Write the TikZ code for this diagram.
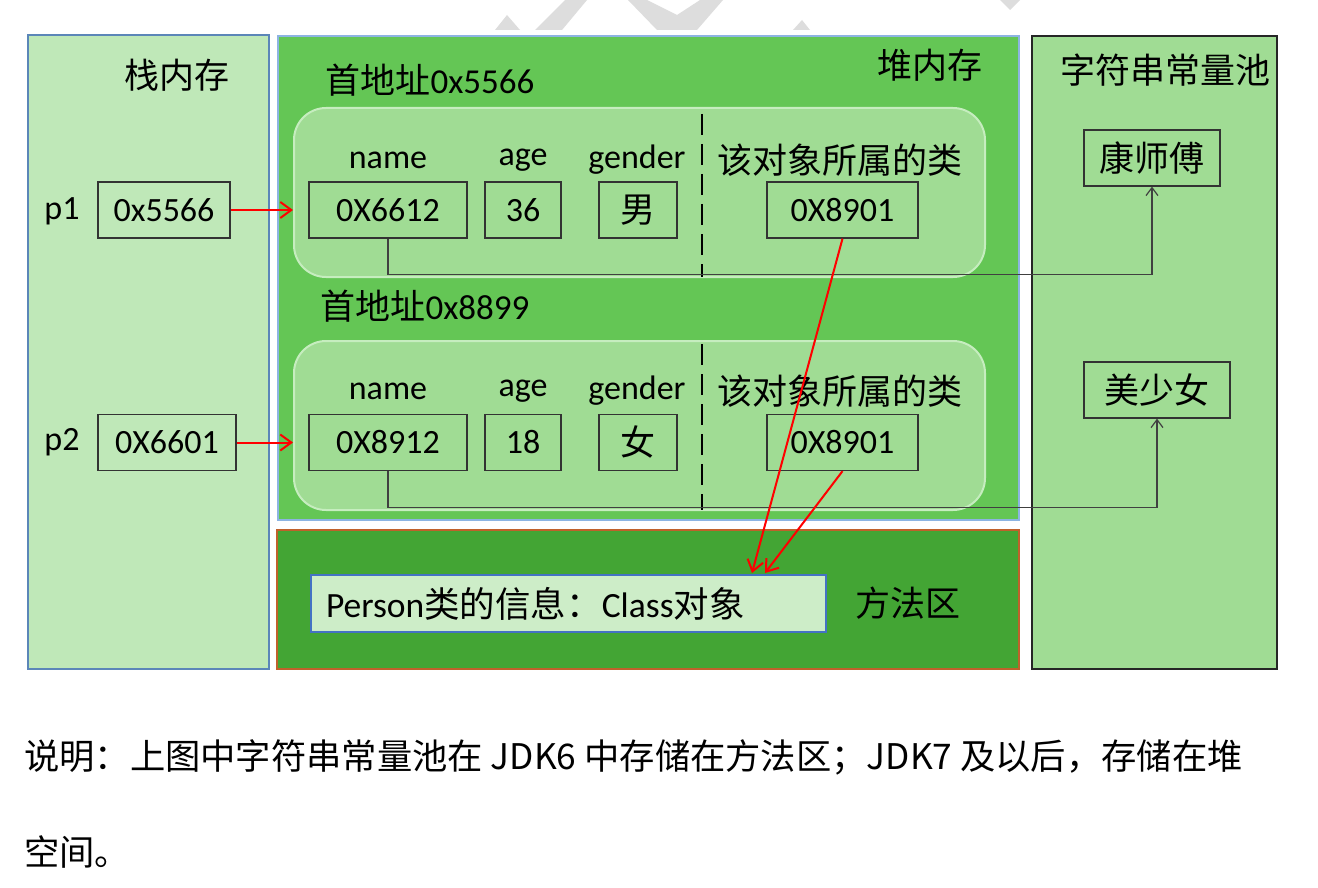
\documentclass[tikz,border=0pt]{standalone}
\usepackage{fontspec}
\setmainfont{Carlito}
\newfontfamily\cjk{Noto Sans CJK SC}
\usetikzlibrary{arrows.meta}
\newcommand{\zh}[1]{{\cjk #1}}
\definecolor{stackfill}{HTML}{BFE8B8}
\definecolor{stackedge}{HTML}{5B86B8}
\definecolor{heapfill}{HTML}{64C655}
\definecolor{heapedge}{HTML}{8DB4E2}
\definecolor{objfill}{HTML}{A0DC94}
\definecolor{objedge}{HTML}{C6EDBF}
\definecolor{methodfill}{HTML}{43A534}
\definecolor{methodedge}{HTML}{C0612B}
\definecolor{personfill}{HTML}{CDEDC8}
\definecolor{personedge}{HTML}{4472C4}
\definecolor{poolfill}{HTML}{A0DC94}
\definecolor{wmgray}{HTML}{DDDDDD}

\begin{document}
\begin{tikzpicture}[x=1pt,y=-1pt,
  latin/.style={font=\fontsize{34}{40}\selectfont},
  title/.style={font=\cjk\fontsize{35}{42}\selectfont},
  cell/.style={draw=black!80, line width=1.3pt, inner sep=0pt, minimum height=56pt, latin},
  objbox/.style={draw=objedge, fill=objfill, line width=2pt, rounded corners=32pt,
    minimum width=691pt, minimum height=169pt},
  ref/.style={-{Straight Barb[length=11pt,width=16pt]}, red, line width=2pt},
  link/.style={-{Straight Barb[length=8pt,width=12pt]}, black!75, line width=1.2pt}]
    \useasboundingbox (0,0) rectangle (1318,888);
    %watermark pieces
    \fill[wmgray] (495,30) -- (507,15) -- (520,30) -- cycle;
    \fill[wmgray] (535,30) -- (565,0) -- (587,0) -- (562,30) -- cycle;
    \fill[wmgray] (628,0) -- (657,30) -- (697,30) -- (723,0) -- (700,0) -- (677,15) -- (647,0) -- cycle;
    \fill[wmgray] (793,30) -- (802,20) -- (810,30) -- cycle;
    \fill[wmgray] (1000,0) -- (1020,0) -- (1010,10) -- cycle;
    %memory areas
    \draw[fill=stackfill, draw=stackedge, line width=2pt] (28,35) rectangle (269,669);
    \draw[fill=heapfill, draw=heapedge, line width=2pt] (278,36) rectangle (1019,520);
    \draw[fill=methodfill, draw=methodedge, line width=2.5pt] (277,530) rectangle (1019,669);
    \draw[fill=poolfill, draw=black!85, line width=1.5pt] (1032,36) rectangle (1277,669);
    \node[title] (stacktitle) at (177,75) {栈内存};
    \node[title] (heaptitle) at (930,65) {堆内存};
    \node[title] (pooltitle) at (1165,70) {字符串常量池};
    \node[title] (methodtitle) at (908,603) {方法区};
    %objects
    \node[title, anchor=west] (addr1) at (322,80) {首地址{\rmfamily 0x5566}};
    \node[title, anchor=west] (addr2) at (317,306) {首地址{\rmfamily 0x8899}};
    \node[objbox] (obj1) at (639.5,192.5) {};
    \node[objbox] (obj2) at (639.5,425.5) {};
    \draw[dashed, dash pattern=on 21pt off 9pt, line width=2pt] (702,114) -- (702,277);
    \draw[dashed, dash pattern=on 21pt off 9pt, line width=2pt] (702,344) -- (702,510);
    \node[latin] (name1) at (388,160) {name};
    \node[latin] (age1) at (523,160) {age};
    \node[latin] (gender1) at (637,160) {gender};
    \node[title] (class1) at (840,160) {该对象所属的类};
    \node[latin] (name2) at (388,391) {name};
    \node[latin] (age2) at (523,391) {age};
    \node[latin] (gender2) at (637,391) {gender};
    \node[title] (class2) at (840,391) {该对象所属的类};
    \node[cell, minimum width=158pt] (n1) at (388,210) {0X6612};
    \node[cell, minimum width=76pt] (a1) at (523,210) {36};
    \node[cell, minimum width=78pt, title] (g1) at (638,210) {男};
    \node[cell, minimum width=151pt] (c1) at (842.5,210) {0X8901};
    \node[cell, minimum width=158pt] (n2) at (388,442.5) {0X8912};
    \node[cell, minimum width=76pt] (a2) at (523,442.5) {18};
    \node[cell, minimum width=78pt, title] (g2) at (638,442.5) {女};
    \node[cell, minimum width=151pt] (c2) at (842.5,442.5) {0X8901};
    %stack
    \node[latin] (p1) at (62,211) {p1};
    \node[latin] (p2) at (62,442) {p2};
    \node[cell, minimum width=132pt] (ptr1) at (164,210) {0x5566};
    \node[cell, minimum width=138pt] (ptr2) at (167,442.5) {0X6601};
    %string pool
    \node[cell, minimum width=136pt, title] (kang) at (1152,158) {康师傅};
    \node[cell, minimum width=146pt, title] (mei) at (1157,390) {美少女};
    %method area
    \node[draw=personedge, fill=personfill, line width=2pt, minimum height=57pt,
      text width=485pt, inner xsep=15pt, align=left, font=\fontsize{35.5}{42}\selectfont] (person) at (568.5,603.5)
      {Person\zh{类的信息：}Class\zh{对象}};
    \coordinate (hit1) at (752,573);
    \coordinate (hit2) at (765,573);
    %connectors
    \draw[ref] (ptr1.east) -- (ptr1.east -| obj1.west);
    \draw[ref] (ptr2.east) -- (ptr2.east -| obj2.west);
    \draw[link] (n1.south) -- ++(0,36) -| (kang.south);
    \draw[link] (n2.south) -- ++(0,36) -| (mei.south);
    \draw[ref] (c1.south) -- (hit1);
    \draw[ref] (c2.south) -- (hit2);
    %note
    \node[anchor=west, inner sep=0pt, font=\cjk\fontsize{35.3}{42}\selectfont] (note1) at (24,757)
      {说明：上图中字符串常量池在 JDK6 中存储在方法区；JDK7 及以后，存储在堆};
    \node[anchor=west, inner sep=0pt, font=\cjk\fontsize{35.3}{42}\selectfont] (note2) at (24,852)
      {空间。};
\end{tikzpicture}
\end{document}
